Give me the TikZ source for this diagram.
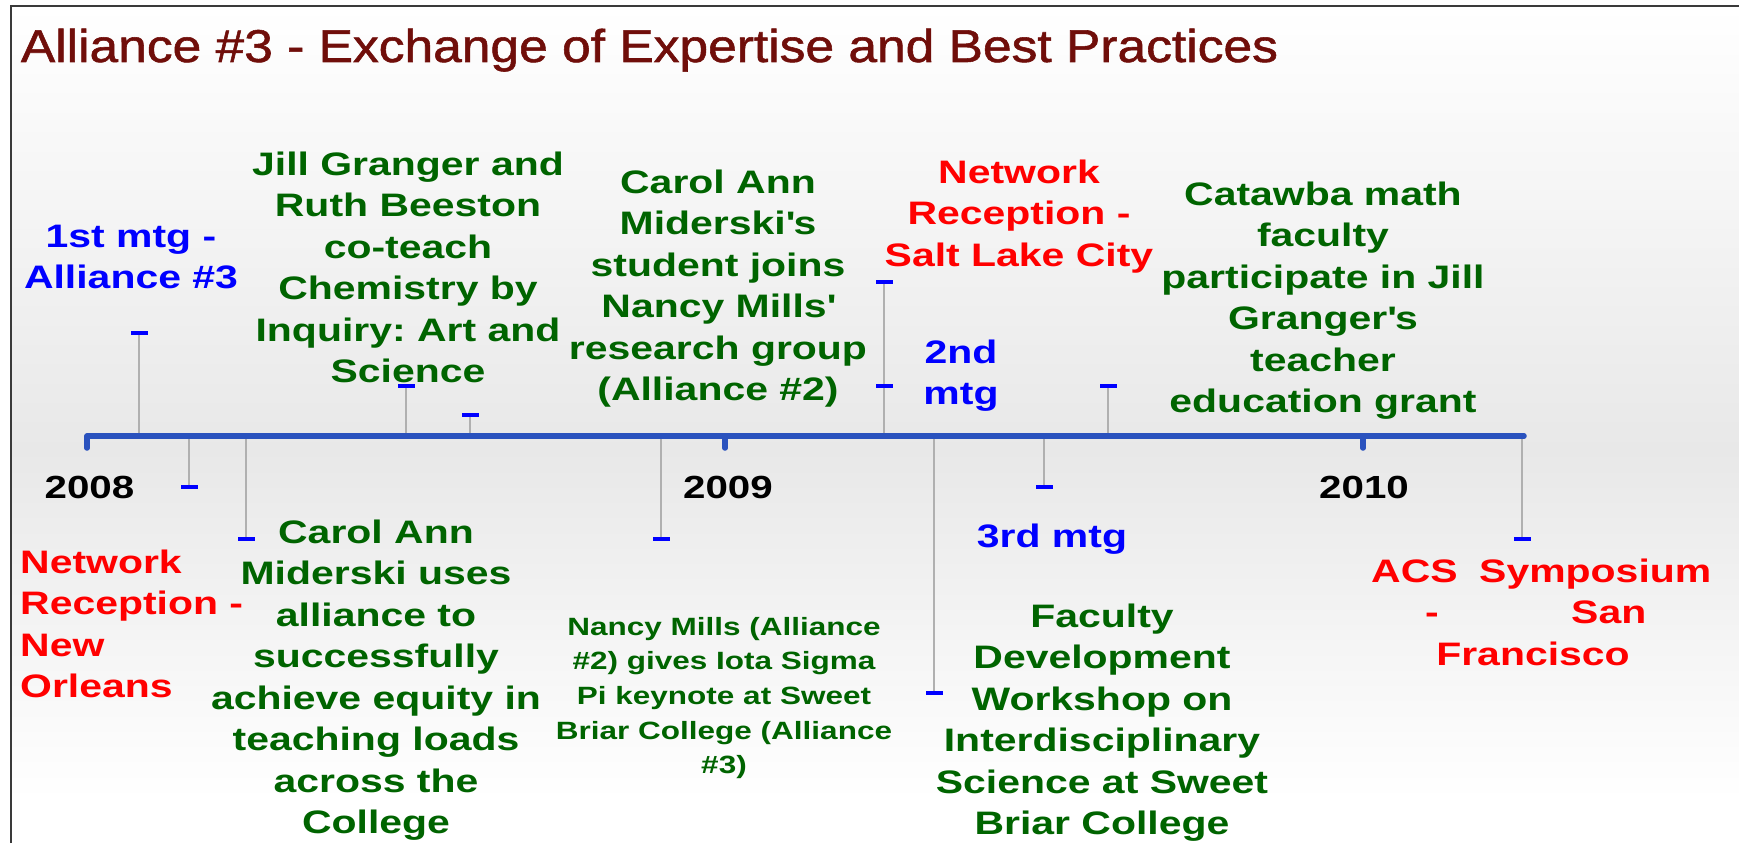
\documentclass[tikz,border=0pt]{standalone}
\usepackage{fontspec}
\newfontfamily\titlefont{Liberation Sans}[FakeStretch=1.12, FakeBold=1.2]
\newfontfamily\bodyfont{Liberation Sans}[FakeStretch=1.26]
\frenchspacing

\definecolor{titlered}{HTML}{700E0A}
\definecolor{evgreen}{HTML}{006400}
\definecolor{evblue}{HTML}{0000FF}
\definecolor{evred}{HTML}{FF0000}
\definecolor{axisblue}{HTML}{2A52BE}
\definecolor{stemgrey}{HTML}{B0B0B0}
\definecolor{framegrey}{HTML}{3A3A3A}

% invisible strut that fixes the top of every first text line
\newcommand\firststrut{\rule{0pt}{30pt}}

\tikzset{
  stem/.style={draw=stemgrey, line width=2pt},
  tickdash/.style={rectangle, fill=evblue, minimum width=17pt, minimum height=3.5pt, inner sep=0pt},
  axisline/.style={draw=axisblue, line width=5.5pt, line cap=round, line join=round},
  evtext/.style={anchor=north, inner sep=0pt, align=center,
                 font=\bodyfont\bfseries\fontsize{32.5}{41.5}\selectfont},
  smalltext/.style={anchor=north, inner sep=0pt, align=center,
                 font=\bodyfont\bfseries\fontsize{25}{34.6}\selectfont},
  yeartext/.style={anchor=base, inner sep=0pt, text=black,
                 font=\bodyfont\bfseries\fontsize{32}{41.5}\selectfont},
  wordtext/.style={anchor=base west, inner sep=0pt, text=evred,
                 font=\bodyfont\bfseries\fontsize{32.5}{41.5}\selectfont},
}

\begin{document}
\begin{tikzpicture}[x=1pt, y=-1pt]
  \useasboundingbox (0,0) rectangle (1739,843);

  % background with soft grey band around the time axis
  \fill[white] (0,0) rectangle (1739,843);
  \shade[top color=white, bottom color=black!9] (11,6) rectangle (1739,450);
  \shade[top color=black!9, bottom color=white] (11,450) rectangle (1739,800);

  % frame (left and top edges)
  \draw[framegrey, line width=2pt] (11,843) -- (11,6) -- (1739,6);

  % title
  \node[anchor=base west, inner sep=0pt, text=titlered,
        font=\titlefont\fontsize{46}{52}\selectfont] (title) at (20.7,62)
        {Alliance \#3 - Exchange of Expertise and Best Practices};

  % points on the axis where the event stems start
  \coordinate (a1) at (139,436);
  \coordinate (a2) at (406,436);
  \coordinate (a3) at (470,436);
  \coordinate (a4) at (884,436);
  \coordinate (a5) at (1108,436);
  \coordinate (b1) at (189,436);
  \coordinate (b2) at (246,436);
  \coordinate (b3) at (661,436);
  \coordinate (b4) at (934,436);
  \coordinate (b5) at (1044,436);
  \coordinate (b6) at (1522,436);

  % free ends of the stems
  \coordinate (m1) at (139,333);
  \coordinate (m2) at (406,386);
  \coordinate (m3) at (470,415);
  \coordinate (m4) at (884,282);
  \coordinate (m4b) at (884,386);
  \coordinate (m5) at (1108,386);
  \coordinate (n1) at (189,487);
  \coordinate (n2) at (246,539);
  \coordinate (n3) at (661,539);
  \coordinate (n4) at (934,693);
  \coordinate (n5) at (1044,487);
  \coordinate (n6) at (1522,539);

  % stems
  \draw[stem] (a1) -- (m1);
  \draw[stem] (a2) -- (m2);
  \draw[stem] (a3) -- (m3);
  \draw[stem] (a4) -- (m4);
  \draw[stem] (a5) -- (m5);
  \draw[stem] (b1) -- (n1);
  \draw[stem] (b2) -- (n2);
  \draw[stem] (b3) -- (n3);
  \draw[stem] (b4) -- (n4);
  \draw[stem] (b5) -- (n5);
  \draw[stem] (b6) -- (n6);

  % blue end marks
  \foreach \m in {m1,m2,m3,m4,m4b,m5,n1,n2,n3,n4,n5,n6}
    \node[tickdash] (\m d) at (\m) {};

  % time axis with year ticks
  \coordinate (y08) at (87,436);
  \coordinate (y09) at (725,436);
  \coordinate (y10) at (1363,436);
  \coordinate (axend) at (1524,436);
  \draw[axisline] ([yshift=-12pt]y08) -- (y08) -- (axend);
  \draw[axisline] (y09) -- ([yshift=-12pt]y09);
  \draw[axisline] (y10) -- ([yshift=-12pt]y10);

  % year labels
  \node[yeartext] (l08) at (89.5,498) {2008};
  \node[yeartext] (l09) at (728,498) {2009};
  \node[yeartext] (l10) at (1364,498) {2010};

  % events above the axis
  \node[evtext, text=evblue] (e1) at (131,217)
    {\firststrut 1st mtg -\\Alliance \#3};
  \node[evtext, text=evgreen] (e2) at (408,145)
    {\firststrut Jill Granger and\\Ruth Beeston\\co-teach\\Chemistry by\\Inquiry: Art and\\Science};
  \node[evtext, text=evgreen] (e3) at (718,163)
    {\firststrut Carol Ann\\Miderski\textquotesingle s\\student joins\\Nancy Mills\textquotesingle\\research group\\(Alliance \#2)};
  \node[evtext, text=evred] (e4) at (1019,153)
    {\firststrut Network\\Reception -\\Salt Lake City};
  \node[evtext, text=evblue] (e5) at (961,333)
    {\firststrut 2nd\\mtg};
  \node[evtext, text=evgreen] (e6) at (1323,175)
    {\firststrut Catawba math\\faculty\\participate in Jill\\Granger\textquotesingle s\\teacher\\education grant};

  % events below the axis
  \node[evtext, anchor=north west, align=left, text=evred] (f1) at (20,543)
    {\firststrut Network\\Reception -\\New\\Orleans};
  \node[evtext, text=evgreen] (f2) at (376,513)
    {\firststrut Carol Ann\\Miderski uses\\alliance to\\successfully\\achieve equity in\\teaching loads\\across the\\College};
  \node[smalltext, text=evgreen] (f3) at (724,605)
    {\firststrut Nancy Mills (Alliance\\\#2) gives Iota Sigma\\Pi keynote at Sweet\\Briar College (Alliance\\\#3)};
  \node[evtext, text=evblue] (f4) at (1052,517)
    {\firststrut 3rd mtg};
  \node[evtext, text=evgreen] (f5) at (1102,597)
    {\firststrut Faculty\\Development\\Workshop on\\Interdisciplinary\\Science at Sweet\\Briar College};

  % justified three-line label at the right end
  \node[wordtext] (g1) at (1371,582) {ACS};
  \node[wordtext] (g2) at (1479,582) {Symposium};
  \node[wordtext] (g3) at (1425,623) {-};
  \node[wordtext] (g4) at (1571,623) {San};
  \node[wordtext, anchor=base] (g5) at (1533,665) {Francisco};
\end{tikzpicture}
\end{document}
